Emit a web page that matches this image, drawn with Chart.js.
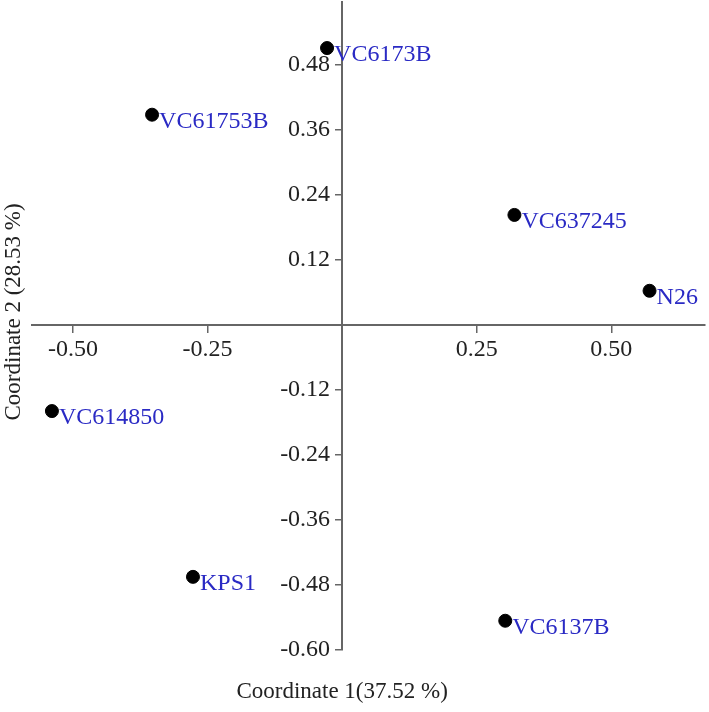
<!DOCTYPE html>
<html>
<head>
<meta charset="utf-8">
<title>PCoA</title>
<script src="https://cdn.jsdelivr.net/npm/chart.js@4"></script>
<style>
  html, body { margin: 0; padding: 0; background: #fff; }
  #cadre { width: 709px; height: 712px; position: relative; }
</style>
</head>
<body>
<div id="cadre"><canvas id="graphique"></canvas></div>
<script>
// ── Données ──────────────────────────────────────────────────
const noms   = ['VC6173B', 'VC61753B', 'VC637245', 'N26', 'VC614850', 'KPS1', 'VC6137B'];
const coord1 = [-0.028, -0.353, 0.320, 0.571, -0.539, -0.277, 0.303];
const coord2 = [0.511, 0.388, 0.203, 0.063, -0.159, -0.465, -0.546];

const ticksX = [-0.50, -0.25, 0.25, 0.50];
const ticksY = [0.48, 0.36, 0.24, 0.12, -0.12, -0.24, -0.36, -0.48, -0.60];

const titreX = 'Coordinate 1(37.52 %)';
const titreY = 'Coordinate 2 (28.53 %)';

const police = '"Liberation Serif", "Times New Roman", serif';

/* ── Étiquettes des points + titres d'axes ─────────────────── */
const etiquettes = {
    id: 'etiquettes',
    afterDatasetsDraw(chart) {
        const ctx = chart.ctx;
        const meta = chart.getDatasetMeta(0);
        ctx.save();
        ctx.font = `24px ${police}`;
        ctx.fillStyle = '#2a2ac4';
        ctx.textAlign = 'left';
        ctx.textBaseline = 'middle';
        meta.data.forEach((pt, i) => {
            ctx.fillText(noms[i], pt.x + 7, pt.y + 7);
        });

        const { x, y } = chart.scales;
        const ca = chart.chartArea;
        ctx.font = `23px ${police}`;
        ctx.fillStyle = '#222';
        ctx.textAlign = 'center';
        ctx.fillText(titreX, x.getPixelForValue(0), ca.bottom + 42);

        ctx.translate(14, y.getPixelForValue(0) - 13);
        ctx.rotate(-Math.PI / 2);
        ctx.fillText(titreY, 0, 0);
        ctx.restore();
    }
};

// pas de marge automatique pour les libellés : la zone du graphe reste fixe
const sansMarge = s => { s.paddingTop = 0; s.paddingBottom = 0; s.paddingLeft = 0; s.paddingRight = 0; };

/* ── Graphique ─────────────────────────────────────────────── */
new Chart(document.getElementById('graphique'), {
    type: 'scatter',
    data: {
        datasets: [{
            data: coord1.map((v, i) => ({ x: v, y: coord2[i] })),
            backgroundColor: '#000',
            borderColor: '#000',
            pointRadius: 6.5,
            pointHoverRadius: 6.5,
        }]
    },
    options: {
        responsive: true,
        maintainAspectRatio: false,
        animation: false,
        layout: { autoPadding: false, padding: { left: 32, right: 4, top: 2, bottom: 62 } },
        plugins: {
            legend: { display: false },
            tooltip: { enabled: false }
        },
        scales: {
            x: {
                type: 'linear',
                position: { y: 0 },
                min: -0.576,
                max: 0.674,
                afterBuildTicks: s => { s.ticks = ticksX.map(v => ({ value: v })); },
                afterFit: sansMarge,
                grid: { drawOnChartArea: false, drawTicks: true, tickLength: 7, color: '#666', lineWidth: 1.5 },
                border: { display: true, color: '#666', width: 2 },
                ticks: {
                    color: '#222',
                    padding: 3,
                    maxRotation: 0,
                    font: { family: police, size: 24 },
                    callback: v => v.toFixed(2)
                }
            },
            y: {
                type: 'linear',
                position: { x: 0 },
                min: -0.60,
                max: 0.596,
                afterBuildTicks: s => { s.ticks = ticksY.map(v => ({ value: v })); },
                afterFit: sansMarge,
                grid: { drawOnChartArea: false, drawTicks: true, tickLength: 6, color: '#666', lineWidth: 1.5 },
                border: { display: true, color: '#666', width: 2 },
                ticks: {
                    color: '#222',
                    font: { family: police, size: 24 },
                    // espaces finales : écart entre libellé et axe
                    callback: v => v.toFixed(2) + '  '
                }
            }
        }
    },
    plugins: [etiquettes]
});
</script>
</body>
</html>
